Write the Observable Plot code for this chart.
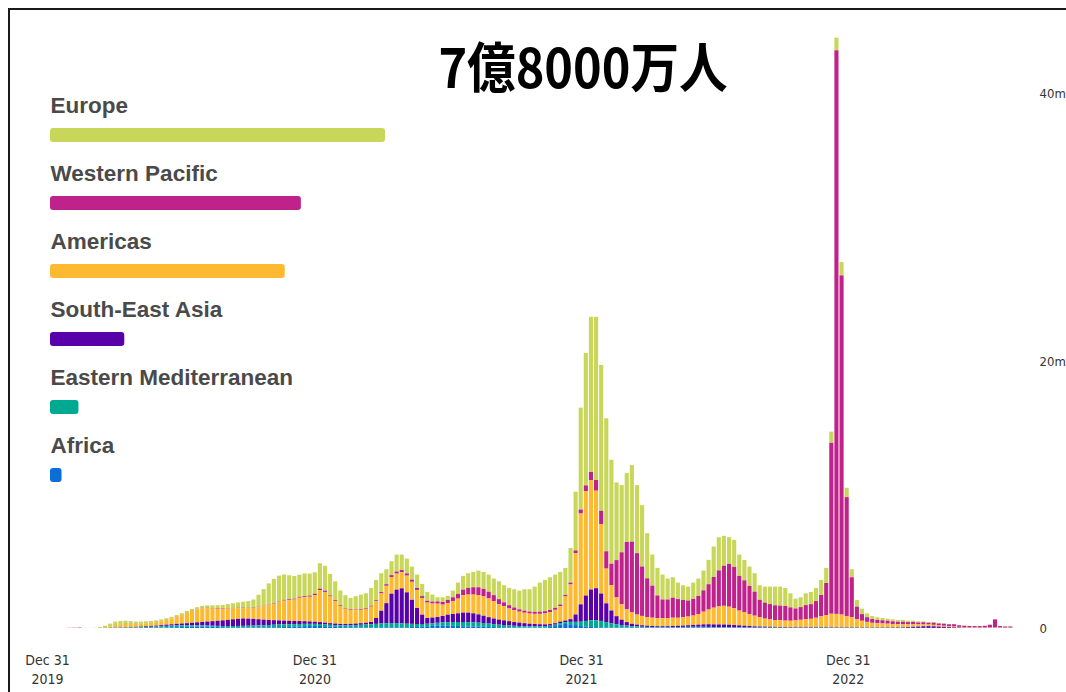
<!DOCTYPE html>
<html>
<head>
<meta charset="utf-8">
<script src="https://cdn.jsdelivr.net/npm/d3@7"></script>
<script src="https://cdn.jsdelivr.net/npm/@observablehq/plot@0.6"></script>
<style>
  html, body { margin: 0; padding: 0; background: #fff; overflow: hidden; }
  #wrap { position: relative; width: 1066px; height: 692px; overflow: hidden; background: #fff; }
  #chart, #legend { position: absolute; left: 0; top: 0; }
  #title { position: absolute; left: 583px; top: 38px; transform: translateX(-50%) scaleX(0.9);
    font-family: "Noto Sans CJK JP", "Noto Sans CJK SC", sans-serif; font-weight: 700; font-size: 54px;
    line-height: 54px; color: #000; white-space: nowrap; }
  #frame { position: absolute; left: 8px; top: 8px; width: 1100px; height: 720px; border: 2px solid #1a1a1a; box-sizing: border-box; pointer-events: none; }
</style>
</head>
<body>
<div id="wrap">
  <div id="chart"></div>
  <div id="legend"></div>
  <div id="title">7億8000万人</div>
  <div id="frame"></div>
</div>
<script>
// ---- data (weekly new cases, millions), weeks starting 2020-01-06 ----
const firstWeek = "2020-01-06";
const regions = ["Europe", "Western Pacific", "Americas", "South-East Asia", "Eastern Mediterranean", "Africa"];
const regionColors = ["#c8d65a", "#c0228c", "#fdba31", "#5800aa", "#00aa91", "#0a6ed7"];
const stackOrder = ["Africa", "Eastern Mediterranean", "South-East Asia", "Americas", "Western Pacific", "Europe"];
const regionTotals = [275.6, 206.4, 193.1, 61.1, 23.4, 9.5];
const xTickLabels = ["2019-12-31", "2020-12-31", "2021-12-31", "2022-12-31"];
const yTicks = [0, 20, 40];

const africa = [
0,0,0,0,0,0,0,0,0,0,
0,0.001,0.002,0.004,0.006,0.008,0.01,0.013,0.017,0.022,
0.027,0.033,0.04,0.05,0.06,0.075,0.09,0.1,0.11,0.11,
0.1,0.09,0.08,0.065,0.055,0.05,0.045,0.04,0.04,0.042,
0.045,0.045,0.05,0.055,0.06,0.07,0.08,0.1,0.12,0.14,
0.15,0.16,0.15,0.13,0.11,0.09,0.07,0.06,0.055,0.05,
0.05,0.05,0.05,0.05,0.05,0.05,0.05,0.05,0.05,0.05,
0.07,0.08,0.1,0.13,0.16,0.19,0.2,0.19,0.17,0.15,
0.13,0.12,0.11,0.1,0.09,0.08,0.07,0.06,0.05,0.04,
0.035,0.03,0.03,0.03,0.03,0.03,0.04,0.07,0.14,0.25,
0.3,0.28,0.22,0.15,0.11,0.08,0.06,0.05,0.045,0.04,
0.035,0.03,0.03,0.025,0.025,0.025,0.02,0.02,0.025,0.03,
0.035,0.04,0.045,0.045,0.04,0.035,0.03,0.025,0.02,0.02,
0.02,0.02,0.02,0.02,0.02,0.015,0.015,0.01,0.01,0.01,
0.01,0.01,0.008,0.008,0.008,0.008,0.008,0.01,0.01,0.012,
0.015,0.015,0.015,0.012,0.01,0.01,0.01,0.008,0.006,0.005,
0.005,0.005,0.004,0.004,0.004,0.003,0.003,0.003,0.003,0.002,
0.002,0.002,0.002,0.002,0.002,0.002,0.001,0.001,0.001,0.001,
0.001,0.001,0.001,0.001,0.001,0.001,0.001,0.001];

const easternMediterranean = [
0,0,0,0,0,0,0,0,0.001,0.005,
0.012,0.02,0.025,0.03,0.035,0.04,0.045,0.05,0.06,0.07,
0.08,0.1,0.12,0.13,0.13,0.12,0.11,0.1,0.09,0.085,
0.08,0.08,0.08,0.085,0.09,0.1,0.11,0.12,0.13,0.14,
0.15,0.16,0.17,0.19,0.2,0.2,0.2,0.19,0.18,0.17,
0.16,0.15,0.15,0.14,0.13,0.13,0.13,0.14,0.15,0.17,
0.19,0.21,0.23,0.26,0.29,0.31,0.32,0.32,0.3,0.27,
0.24,0.22,0.2,0.19,0.19,0.2,0.22,0.25,0.28,0.3,
0.32,0.32,0.31,0.3,0.28,0.25,0.22,0.19,0.17,0.15,
0.13,0.12,0.11,0.1,0.1,0.1,0.1,0.1,0.11,0.12,
0.14,0.18,0.24,0.32,0.42,0.5,0.52,0.48,0.4,0.32,
0.25,0.19,0.15,0.11,0.09,0.07,0.06,0.05,0.04,0.035,
0.03,0.03,0.03,0.035,0.045,0.055,0.06,0.065,0.06,0.05,
0.045,0.04,0.035,0.03,0.03,0.025,0.025,0.02,0.02,0.02,
0.02,0.02,0.018,0.018,0.016,0.016,0.016,0.015,0.015,0.015,
0.015,0.015,0.015,0.014,0.013,0.012,0.012,0.011,0.01,0.01,
0.01,0.01,0.009,0.009,0.008,0.008,0.008,0.007,0.007,0.006,
0.006,0.006,0.005,0.005,0.005,0.004,0.004,0.004,0.003,0.003,
0.003,0.003,0.003,0.003,0.003,0.003,0.002,0.002];

const southEastAsia = [
0,0,0,0,0,0,0,0,0,0.001,
0.003,0.005,0.01,0.015,0.02,0.025,0.03,0.04,0.05,0.06,
0.07,0.08,0.09,0.1,0.12,0.14,0.16,0.19,0.22,0.26,
0.3,0.34,0.38,0.42,0.46,0.5,0.53,0.55,0.53,0.5,
0.46,0.42,0.38,0.34,0.31,0.28,0.26,0.24,0.22,0.2,
0.18,0.16,0.14,0.13,0.12,0.11,0.1,0.1,0.1,0.11,
0.12,0.13,0.17,0.44,0.95,1.5,2.2,2.5,2.62,2.35,
1.8,1.2,0.7,0.43,0.43,0.43,0.48,0.56,0.6,0.65,
0.7,0.71,0.68,0.62,0.55,0.48,0.42,0.38,0.35,0.32,
0.28,0.25,0.22,0.19,0.17,0.15,0.13,0.12,0.11,0.11,
0.12,0.2,0.55,1.3,1.9,2.3,2.4,2.05,1.4,0.95,
0.6,0.4,0.26,0.18,0.14,0.11,0.09,0.08,0.07,0.07,
0.07,0.08,0.09,0.1,0.12,0.14,0.16,0.18,0.2,0.2,
0.2,0.2,0.19,0.17,0.15,0.13,0.11,0.09,0.08,0.07,
0.06,0.05,0.05,0.045,0.04,0.04,0.04,0.04,0.04,0.04,
0.04,0.04,0.035,0.03,0.03,0.03,0.03,0.03,0.025,0.025,
0.025,0.025,0.025,0.03,0.03,0.035,0.04,0.06,0.08,0.1,
0.12,0.13,0.12,0.1,0.08,0.06,0.045,0.03,0.02,0.015,
0.012,0.01,0.01,0.01,0.01,0.01,0.008,0.008];

const americas = [
0,0,0,0,0,0,0,0,0.001,0.01,
0.04,0.1,0.18,0.22,0.24,0.23,0.22,0.22,0.23,0.24,
0.27,0.3,0.35,0.42,0.52,0.63,0.76,0.88,0.97,1.02,
1.0,0.95,0.9,0.87,0.85,0.82,0.8,0.78,0.78,0.82,
0.9,1.0,1.1,1.2,1.35,1.5,1.55,1.6,1.75,1.8,
1.85,2.0,2.4,2.3,2.0,1.7,1.35,1.15,1.05,1.0,
1.0,1.05,1.15,1.25,1.3,1.3,1.25,1.2,1.2,1.25,
1.35,1.35,1.25,1.15,1.05,1.0,0.85,0.85,0.95,1.1,
1.3,1.35,1.4,1.45,1.45,1.4,1.3,1.15,1.05,0.95,
0.88,0.82,0.78,0.76,0.76,0.78,0.82,0.9,1.0,1.15,
1.8,2.6,4.6,6.8,7.8,8.2,7.3,5.2,2.6,1.9,
1.4,1.15,0.95,0.85,0.75,0.7,0.65,0.62,0.6,0.6,
0.6,0.62,0.6,0.62,0.65,0.7,0.8,0.95,1.1,1.25,
1.35,1.4,1.35,1.25,1.1,1.0,0.9,0.8,0.7,0.6,
0.55,0.52,0.5,0.48,0.48,0.5,0.55,0.6,0.62,0.7,
0.8,0.9,1.0,1.0,0.95,0.85,0.75,0.6,0.5,0.42,
0.35,0.32,0.3,0.28,0.26,0.24,0.22,0.2,0.18,0.16,
0.14,0.12,0.11,0.09,0.08,0.07,0.06,0.05,0.045,0.04,
0.035,0.03,0.03,0.03,0.03,0.03,0.025,0.025];

const westernPacific = [
0,0.0005,0.003,0.014,0.021,0.031,0.006,0.003,0.002,0.004,
0.006,0.01,0.013,0.015,0.012,0.009,0.006,0.005,0.005,0.005,
0.005,0.006,0.006,0.007,0.008,0.01,0.012,0.015,0.02,0.028,
0.035,0.04,0.042,0.04,0.035,0.032,0.03,0.03,0.03,0.03,
0.032,0.035,0.04,0.045,0.05,0.055,0.06,0.065,0.07,0.075,
0.085,0.1,0.11,0.1,0.08,0.065,0.055,0.05,0.05,0.05,
0.055,0.06,0.07,0.08,0.1,0.12,0.14,0.16,0.17,0.17,
0.16,0.15,0.14,0.14,0.15,0.17,0.2,0.25,0.3,0.35,
0.42,0.5,0.55,0.58,0.56,0.5,0.45,0.38,0.3,0.25,
0.21,0.18,0.16,0.15,0.15,0.16,0.17,0.16,0.15,0.13,
0.12,0.14,0.2,0.3,0.45,0.6,0.8,1.0,1.3,1.6,
2.8,3.9,5.05,5.3,4.6,3.7,2.9,2.4,1.7,1.4,
1.4,1.5,1.4,1.3,1.2,1.25,1.35,1.6,1.9,2.3,
2.7,3.0,3.2,3.1,2.6,2.4,2.1,1.8,1.3,1.2,
1.15,1.1,1.1,1.1,1.0,0.9,0.95,1.05,1.1,1.25,
1.6,2.4,12.8,42.2,25.4,8.9,3.0,0.95,0.5,0.35,
0.28,0.25,0.24,0.22,0.2,0.18,0.2,0.17,0.18,0.15,
0.16,0.13,0.16,0.14,0.15,0.14,0.17,0.12,0.1,0.09,
0.09,0.1,0.12,0.2,0.6,0.1,0.08,0.08];

const europe = [
0,0,0,0,0,0,0,0.002,0.008,0.04,
0.11,0.19,0.25,0.245,0.23,0.2,0.17,0.15,0.14,0.13,
0.12,0.12,0.12,0.13,0.13,0.13,0.14,0.14,0.15,0.16,
0.18,0.2,0.22,0.25,0.3,0.35,0.4,0.45,0.5,0.6,
0.9,1.25,1.6,1.85,1.95,1.9,1.8,1.7,1.65,1.7,
1.65,1.6,1.9,1.85,1.6,1.4,1.1,0.95,0.85,1.0,
1.085,1.1,1.33,1.52,1.41,1.12,1.04,1.27,1.16,1.11,
0.98,1.0,0.91,0.66,0.52,0.31,0.35,0.3,0.5,0.85,
1.03,1.1,1.15,1.25,1.27,1.29,1.24,1.34,1.28,1.29,
1.365,1.4,1.6,1.67,1.89,2.18,2.34,2.45,2.49,2.44,
2.02,2.6,4.39,7.63,9.92,11.62,12.22,10.92,9.955,7.79,
5.815,5.03,5.16,5.735,5.095,4.595,3.38,2.33,2.065,1.865,
1.565,1.53,1.235,1.1,1.045,1.22,1.3,1.48,1.82,2.28,
2.485,2.24,2.005,2.03,1.6,1.53,1.45,1.38,1.09,1.2,
1.31,1.4,1.424,1.349,1.056,0.736,0.736,0.885,0.915,0.983,
1.13,1.13,0.835,0.944,0.997,0.698,0.598,0.501,0.409,0.29,
0.23,0.19,0.172,0.157,0.148,0.134,0.129,0.11,0.1,0.082,
0.072,0.062,0.053,0.043,0.033,0.024,0.02,0.015,0.011,0.011,
0.009,0.006,0.006,0.006,0.006,0.006,0.004,0.004];

// ---- build tables ----
const series = {
  "Europe": europe,
  "Western Pacific": westernPacific,
  "Americas": americas,
  "South-East Asia": southEastAsia,
  "Eastern Mediterranean": easternMediterranean,
  "Africa": africa
};
const t0 = new Date(firstWeek + "T00:00:00Z");
const DAY = 864e5;
const weekly = [];
for (const r of regions) {
  series[r].forEach((v, i) => {
    weekly.push({region: r, start: new Date(+t0 + i * 7 * DAY), end: new Date(+t0 + (i + 1) * 7 * DAY), value: v});
  });
}
const legendData = regions.map((r, i) => ({region: r, total: regionTotals[i]}));
const tickDates = xTickLabels.map(s => new Date(s + "T00:00:00Z"));

const axisFont = "'Liberation Sans Narrow', 'DejaVu Sans Condensed', 'Liberation Sans', Arial, sans-serif";

const chart = Plot.plot({
  width: 1066,
  height: 692,
  marginLeft: 47,
  marginRight: 48,
  marginTop: 27,
  marginBottom: 64,
  style: {background: "#fff", fontFamily: axisFont, fontSize: "14px", color: "#333"},
  x: {type: "utc", domain: [new Date("2019-12-31T00:00:00Z"), new Date("2023-08-21T00:00:00Z")]},
  y: {domain: [0, 45]},
  color: {domain: regions, range: regionColors},
  marks: [
    Plot.rectY(weekly, {x1: "start", x2: "end", y: "value", fill: "region", order: stackOrder, insetLeft: 0.5, insetRight: 0.5}),
    Plot.axisX({ticks: tickDates, tickFormat: d => `Dec 31\n${d.getUTCFullYear()}`, tickSize: 0, tickPadding: 24, lineHeight: 1.3, label: null, fontSize: 14}),
    Plot.axisY({anchor: "right", ticks: yTicks, tickFormat: d => d === 0 ? "0" : d + "m", tickSize: 0, tickPadding: 21, label: null, fontSize: 13})
  ]
});
document.getElementById("chart").appendChild(chart);

const legend = Plot.plot({
  width: 450,
  height: 520,
  margin: 0,
  style: {background: "transparent", fontFamily: "'Liberation Sans', Arial, sans-serif"},
  x: {domain: [0, 300], range: [50, 50 + 300 * 1.2155], axis: null},
  y: {type: "band", domain: regions, range: [72.6, 537.4], padding: 0.795, axis: null},
  color: {domain: regions, range: regionColors},
  marks: [
    Plot.barX(legendData, {x: "total", y: "region", fill: "region", rx: 3}),
    Plot.text(legendData, {x: 0, y: "region", text: "region", dy: -30, textAnchor: "start", fontSize: 22.5, fontWeight: "bold", fill: "#4a4a4a"})
  ]
});
document.getElementById("legend").appendChild(legend);
</script>
</body>
</html>
